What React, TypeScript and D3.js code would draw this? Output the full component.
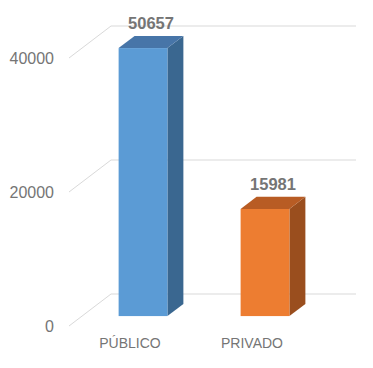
import React from "react";
import * as d3 from "d3";

const categories = ["PÚBLICO", "PRIVADO"];
const values = [50657, 15981];
const ticks = [0, 20000, 40000];
const frontColors = ["#5B9BD5", "#ED7D31"];
const topColors = ["#4775A8", "#B85C24"];
const sideColors = ["#3A6790", "#9A4E1E"];

export default function App() {
  const W = 373, H = 368;
  const x0 = 69, x1 = 313;
  const depthX = 42, depthY = -32;
  const dFront = 0.31, dBack = 0.69;
  const y = d3.scaleLinear().domain([0, 40000]).range([326, 58]).clamp(true);
  const x = d3.scaleBand().domain(categories).range([x0, x1]).paddingInner(0).paddingOuter(0);
  const barW = x.bandwidth() * 0.4;

  const fdx = dFront * depthX, fdy = dFront * depthY;
  const bdx = dBack * depthX, bdy = dBack * depthY;

  return (
    <svg width={W} height={H} style={{ position: "absolute", left: 0, top: 0, fontFamily: "'Liberation Sans', Arial, sans-serif" }}>
      <rect width={W} height={H} fill="#fff" />
      {ticks.map((t) => {
        const yy = y(t);
        return (
          <g key={t}>
            <polyline
              points={`${x0},${yy} ${x0 + depthX},${yy + depthY} 356,${yy + depthY}`}
              fill="none"
              stroke="#d9d9d9"
              strokeWidth={1}
            />
            <text x={54} y={yy + 6} textAnchor="end" fontSize={16} fill="#757575">
              {t}
            </text>
          </g>
        );
      })}
      {categories.map((c, i) => {
        const cx = (x(c) as number) + x.bandwidth() / 2;
        const l = cx - barW / 2 + fdx;
        const r = cx + barW / 2 + fdx;
        const yb = y(0) + fdy;
        const yt = y(values[i]) + fdy;
        const ddx = bdx - fdx, ddy = bdy - fdy;
        return (
          <g key={c}>
            <polygon
              points={`${r},${yb} ${r + ddx},${yb + ddy} ${r + ddx},${yt + ddy} ${r},${yt}`}
              fill={sideColors[i]}
            />
            <polygon
              points={`${l},${yt} ${l + ddx},${yt + ddy} ${r + ddx},${yt + ddy} ${r},${yt}`}
              fill={topColors[i]}
            />
            <rect x={l} y={yt} width={r - l} height={yb - yt} fill={frontColors[i]} />
            <text
              x={cx + (fdx + bdx) / 2}
              y={yt + ddy - 7}
              textAnchor="middle"
              fontSize={16.5}
              fontWeight="bold"
              fill="#757575"
            >
              {values[i]}
            </text>
            <text x={cx} y={348} textAnchor="middle" fontSize={14} fill="#757575">
              {c}
            </text>
          </g>
        );
      })}
    </svg>
  );
}
